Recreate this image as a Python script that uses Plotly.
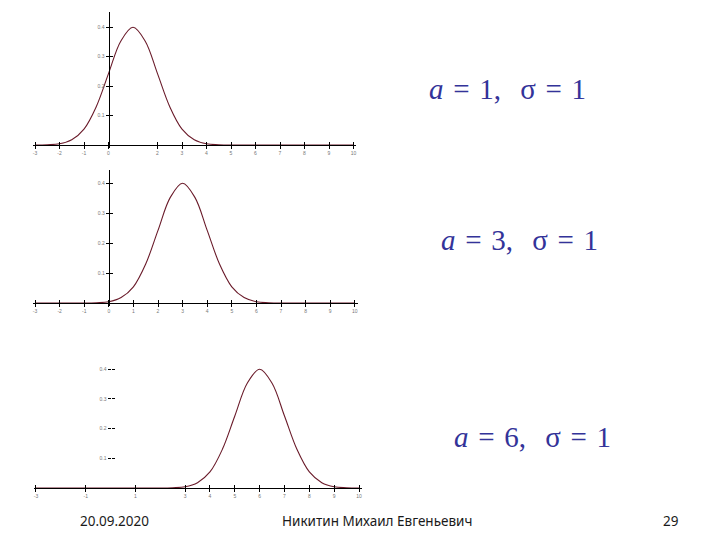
import plotly.graph_objects as go

# ---------------- data ----------------
x_grid = [-3.0, -2.5, -2.0, -1.5, -1.0, -0.5, 0.0, 0.5, 1.0, 1.5, 2.0, 2.5, 3.0, 3.5,
          4.0, 4.5, 5.0, 5.5, 6.0, 6.5, 7.0, 7.5, 8.0, 8.5, 9.0, 9.5, 10.0]

dens_a1 = [0.000, 0.001, 0.004, 0.018, 0.054, 0.130, 0.242, 0.352, 0.399, 0.352, 0.242,
           0.130, 0.054, 0.018, 0.004, 0.001, 0, 0, 0, 0, 0, 0, 0, 0, 0, 0, 0]
dens_a3 = [0, 0, 0, 0, 0, 0.001, 0.004, 0.018, 0.054, 0.130, 0.242, 0.352, 0.399, 0.352,
           0.242, 0.130, 0.054, 0.018, 0.004, 0.001, 0, 0, 0, 0, 0, 0, 0]
dens_a6 = [0, 0, 0, 0, 0, 0, 0, 0, 0, 0, 0, 0.001, 0.004, 0.018, 0.054, 0.130, 0.242,
           0.352, 0.399, 0.352, 0.242, 0.130, 0.054, 0.018, 0.004, 0.001, 0]

xticks_1 = [-3, -2, -1, 0, 2, 3, 4, 5, 6, 7, 8, 9, 10]
xticks_2 = [-3, -2, -1, 0, 1, 2, 3, 4, 5, 6, 7, 8, 9, 10]
xticks_3 = [-3, -1, 1, 3, 4, 5, 6, 7, 8, 9, 10]
yticks = [0.1, 0.2, 0.3, 0.4]
ytick_text = ["0.1", "0.2", "0.3", "0.4"]

SP = " \u200a"
labels = [f"<i>a</i>{SP}={SP}1,{SP}{SP}σ{SP}={SP}1",
          f"<i>a</i>{SP}={SP}3,{SP}{SP}σ{SP}={SP}1",
          f"<i>a</i>{SP}={SP}6,{SP}{SP}σ{SP}={SP}1"]

footer_date = "20.09.2020"
footer_author = "Никитин Михаил Евгеньевич"
footer_page = "29"

# ---------------- layout geometry (pixels) ----------------
W, H = 720, 540
panels = [
    dict(data=dens_a1, xt=xticks_1, px3=35, ux=24.5, py0=145, uy=29.5, ytop=0.45, yline=True),
    dict(data=dens_a3, xt=xticks_2, px3=35, ux=24.6, py0=303, uy=30.0, ytop=0.445, yline=True),
    dict(data=dens_a6, xt=xticks_3, px3=36, ux=24.85, py0=488, uy=29.75, ytop=0.42, yline=False),
]

CURVE = "#6a1b2a"
TICKFONT = dict(family="Liberation Sans", size=5, color="#777777")

fig = go.Figure()
layout = {}
for i, p in enumerate(panels):
    n = i + 1
    nd = i + 4
    xr = [-3.1, 10.12]
    yr = [-0.01, p["ytop"]]
    xd0 = p["px3"] + (xr[0] + 3) * p["ux"]
    xd1 = p["px3"] + (xr[1] + 3) * p["ux"]
    yd0 = p["py0"] - yr[0] * 10 * p["uy"]
    yd1 = p["py0"] - yr[1] * 10 * p["uy"]
    xdom = [xd0 / W, xd1 / W]
    ydom = [1 - yd0 / H, 1 - yd1 / H]
    xpos_y0 = 1 - p["py0"] / H
    ypos_x0 = (p["px3"] + 3 * p["ux"]) / W

    xs = "" if n == 1 else str(n)
    fig.add_trace(go.Scatter(x=x_grid, y=p["data"], mode="lines",
                             line=dict(color=CURVE, width=1.1, shape="spline"),
                             xaxis="x" + xs, yaxis="y" + xs, showlegend=False,
                             hoverinfo="skip"))
    fig.add_trace(go.Scatter(x=[None], y=[None], mode="lines",
                             xaxis="x" + str(nd), yaxis="y" + str(nd), showlegend=False))

    common_x = dict(range=xr, domain=xdom, anchor="free", position=xpos_y0,
                    showgrid=False, zeroline=False, tickmode="array",
                    tickvals=p["xt"], ticklen=3, tickwidth=1, tickcolor="#000")
    common_y = dict(range=yr, domain=ydom, anchor="free", position=ypos_x0,
                    showgrid=False, zeroline=False, tickmode="array",
                    tickvals=yticks, ticklen=3, tickwidth=1, tickcolor="#000")

    layout["xaxis" + xs] = dict(common_x, showline=True, linecolor="#000", linewidth=1,
                                ticks="outside", ticktext=[str(v) for v in p["xt"]],
                                tickfont=TICKFONT)
    layout["yaxis" + xs] = dict(common_y, showline=p["yline"], linecolor="#000", linewidth=1,
                                ticks="outside", ticktext=ytick_text, tickfont=TICKFONT)
    layout["xaxis" + str(nd)] = dict(common_x, overlaying="x" + xs, showline=False,
                                     ticks="inside", showticklabels=False)
    layout["yaxis" + str(nd)] = dict(common_y, overlaying="y" + xs, showline=False,
                                     ticks="inside", showticklabels=False)

fig.update_layout(**layout)

ann_pos = [(427, 89), (439, 240), (452, 437)]
for txt, (ax, ay) in zip(labels, ann_pos):
    fig.add_annotation(text=txt, x=ax / W, y=1 - ay / H, xref="paper", yref="paper",
                       xanchor="left", yanchor="middle", showarrow=False,
                       font=dict(family="Liberation Serif", size=29, color="#333399"))

FOOT = dict(family="Noto Sans", size=13.5, color="#1a1a1a")
fig.add_annotation(text=footer_date, x=78 / W, y=1 - 521 / H, xref="paper", yref="paper",
                   xanchor="left", yanchor="middle", showarrow=False, font=FOOT)
fig.add_annotation(text=footer_author, x=377 / W, y=1 - 521 / H, xref="paper", yref="paper",
                   xanchor="center", yanchor="middle", showarrow=False, font=FOOT)
fig.add_annotation(text=footer_page, x=681 / W, y=1 - 521 / H, xref="paper", yref="paper",
                   xanchor="right", yanchor="middle", showarrow=False, font=FOOT)

fig.update_layout(width=W, height=H, margin=dict(l=0, r=0, t=0, b=0),
                  paper_bgcolor="white", plot_bgcolor="white", showlegend=False)

fig.write_html("out.html")
